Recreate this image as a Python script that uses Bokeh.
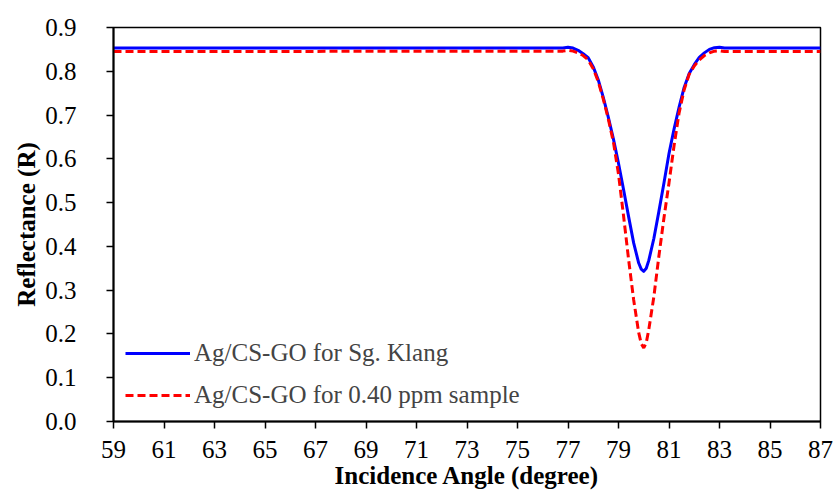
from bokeh.plotting import figure
from bokeh.models import ColumnDataSource, Legend, LegendItem, FixedTicker, NumeralTickFormatter, Range1d
from bokeh.embed import file_html
from bokeh.resources import INLINE

# Incidence angle (degree)
angle_blue = [59.0, 76.8, 77.0, 77.2, 77.4, 77.6, 77.8, 78.0, 78.2, 78.4, 78.6, 78.8,
              79.0, 79.2, 79.4, 79.6, 79.8, 79.9, 80.0, 80.1, 80.2, 80.4, 80.6, 80.8, 81.0, 81.2,
              81.4, 81.6, 81.8, 82.0, 82.2, 82.4, 82.6, 82.8, 83.0, 83.2, 87.0]
refl_blue = [0.853, 0.853, 0.855, 0.853, 0.848, 0.840, 0.831, 0.810, 0.780, 0.740, 0.694, 0.645,
             0.590, 0.530, 0.468, 0.408, 0.362, 0.348, 0.343, 0.350, 0.368, 0.418, 0.480, 0.545,
             0.612, 0.668, 0.718, 0.763, 0.795, 0.815, 0.832, 0.842, 0.850, 0.854, 0.855, 0.853, 0.853]

angle_red = [59.0, 76.8, 77.0, 77.2, 77.4, 77.6, 77.8, 78.0, 78.2, 78.4, 78.6, 78.8,
             79.0, 79.2, 79.4, 79.6, 79.8, 79.9, 80.0, 80.1, 80.2, 80.4, 80.6, 80.8, 81.0, 81.2,
             81.4, 81.6, 81.8, 82.0, 82.2, 82.4, 82.6, 82.8, 83.0, 83.2, 87.0]
refl_red = [0.845, 0.846, 0.848, 0.846, 0.842, 0.836, 0.826, 0.806, 0.776, 0.736, 0.690, 0.638,
            0.565, 0.470, 0.370, 0.278, 0.203, 0.178, 0.168, 0.180, 0.210, 0.285, 0.378, 0.465,
            0.545, 0.630, 0.705, 0.758, 0.793, 0.812, 0.826, 0.836, 0.842, 0.846, 0.847, 0.845, 0.845]

x_ticks = list(range(59, 88, 2))
y_ticks = [0.0, 0.1, 0.2, 0.3, 0.4, 0.5, 0.6, 0.7, 0.8, 0.9]

label_blue = "Ag/CS-GO for Sg. Klang"
label_red = "Ag/CS-GO for 0.40 ppm sample"

FONT = "Liberation Serif"

p = figure(width=835, height=495, output_backend="svg", toolbar_location=None,
           x_range=Range1d(59, 87), y_range=Range1d(0, 0.9),
           min_border_left=113, min_border_right=15, min_border_top=27, min_border_bottom=74)
p.background_fill_color = "white"
p.border_fill_color = "white"
p.outline_line_color = "black"
p.outline_line_width = 1.5
p.xgrid.visible = False
p.ygrid.visible = False

src_b = ColumnDataSource(dict(x=angle_blue, y=refl_blue))
src_r = ColumnDataSource(dict(x=angle_red, y=refl_red))
rb = p.line("x", "y", source=src_b, line_color="#0000FF", line_width=3, line_join="round")
rr = p.line("x", "y", source=src_r, line_color="#FF0000", line_width=3, line_dash="8 4")

for ax in (p.xaxis[0], p.yaxis[0]):
    ax.axis_line_color = "black"
    ax.axis_line_width = 2
    ax.major_tick_line_color = "black"
    ax.major_tick_line_width = 1.5
    ax.major_tick_out = 7
    ax.major_tick_in = 0
    ax.minor_tick_line_color = None
    ax.major_label_text_font = FONT
    ax.major_label_text_font_size = "25px"
    ax.major_label_text_color = "black"
    ax.axis_label_text_font = FONT
    ax.axis_label_text_font_size = "25px"
    ax.axis_label_text_font_style = "bold"
    ax.axis_label_text_color = "black"

p.xaxis[0].ticker = FixedTicker(ticks=x_ticks)
p.yaxis[0].ticker = FixedTicker(ticks=y_ticks)
p.yaxis[0].formatter = NumeralTickFormatter(format="0.0")
p.xaxis[0].axis_label = "Incidence Angle (degree)"
p.yaxis[0].axis_label = "Reflectance (R)"
p.xaxis[0].major_label_standoff = 12
p.yaxis[0].major_label_standoff = 30
p.xaxis[0].axis_label_standoff = 1
p.yaxis[0].axis_label_standoff = 2

legend = Legend(items=[LegendItem(label=label_blue, renderers=[rb]),
                       LegendItem(label=label_red, renderers=[rr])],
                location="bottom_left")
legend.border_line_color = None
legend.background_fill_alpha = 0
legend.label_text_font = FONT
legend.label_text_font_size = "25px"
legend.glyph_width = 65
legend.glyph_height = 22
legend.spacing = 14
legend.label_standoff = 4
legend.margin = 12
legend.padding = 2
p.add_layout(legend)

open("out.html", "w").write(file_html(p, INLINE))
